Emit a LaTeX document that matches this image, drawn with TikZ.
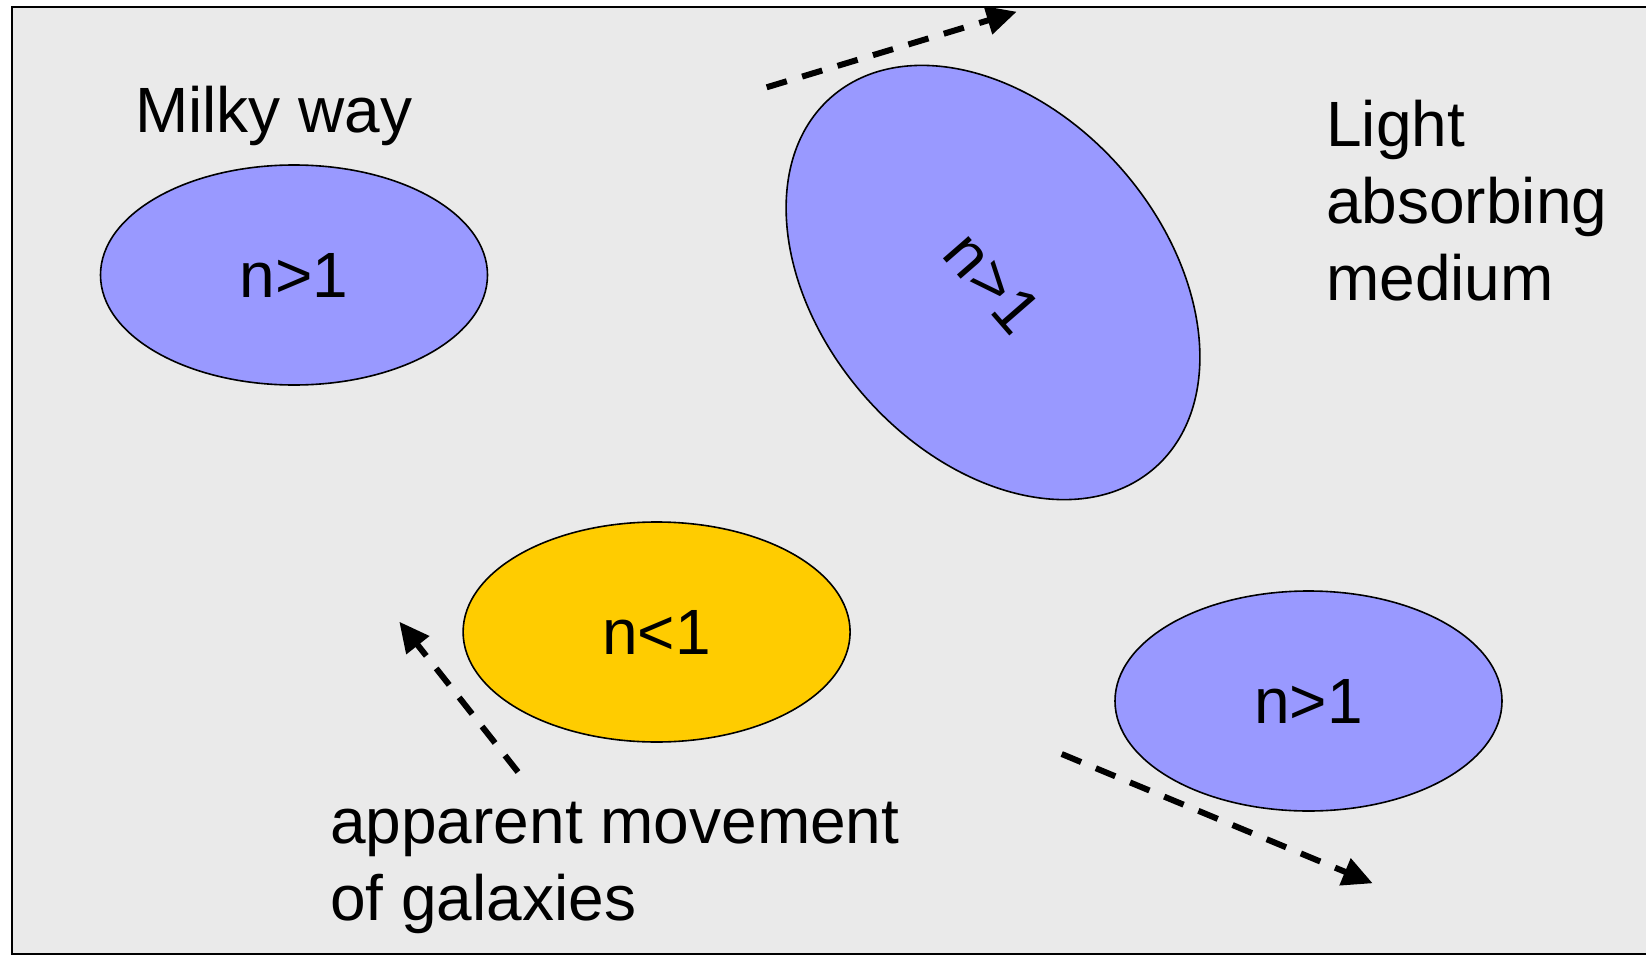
\documentclass[tikz,border=0pt]{standalone}
\usepackage{fontspec}
\setmainfont{Liberation Sans}
\usepackage{tikz}
\usetikzlibrary{shapes.geometric,arrows.meta,positioning}
\definecolor{PaperGrey}{HTML}{EAEAEA}
\definecolor{GalaxyBlue}{HTML}{9999FF}
\definecolor{GalaxyGold}{HTML}{FFCC00}
\tikzset{
  % Base ellipse
  GX/.style={ellipse,draw=black,line width=1.6pt,inner sep=0pt,
             minimum width=387pt,minimum height=220pt,
             font=\fontsize{64}{76.7}\selectfont},
  % Colour variants
  gB/.style={GX,fill=GalaxyBlue},
  gY/.style={GX,fill=GalaxyGold},
  % Free text
  LB/.style={inner sep=0pt,align=left,
             font=\fontsize{64}{76.7}\selectfont},
  % Dashed movement arrow
  mv/.style={-{Triangle[length=30pt,width=28pt]},line width=6pt,
             dash pattern=on 21pt off 16pt}
}
\begin{document}
\begin{tikzpicture}[x=1pt,y=-1pt]
  \useasboundingbox (0,0) rectangle (1646,955);
  \draw[fill=PaperGrey,line width=2pt] (12,7) rectangle (1652,954);

  \node[gB]                                          (milky) at (294,275)   {n>1};
  \node[gB,minimum width=492pt,minimum height=343pt,rotate=-49] (tilt) at (993,282.5) {n>1};
  \node[gY]                                          (near)  at (656.6,632) {n<1};
  \node[gB]                                          (far)   at (1308.5,701) {n>1};

  % base anchor sits on the last line
  \node[LB,anchor=base west] (mwlab)  at (135,133)  {Milky way};
  \node[LB,anchor=base west] (medlab) at (1326,300) {Light\\absorbing\\medium};
  \node[LB,anchor=base west] (movlab) at (330,920)  {apparent movement\\of galaxies};

  \coordinate (topA) at (766.7,87.3);  \coordinate (topB) at (1016.7,11.7);
  \coordinate (lefA) at (518,772);     \coordinate (lefB) at (399.3,621.7);
  \coordinate (botA) at (1061.7,754);  \coordinate (botB) at (1372.7,883.3);

  \draw[mv](topA)--(topB);
  \draw[mv](lefA)--(lefB);
  \draw[mv](botA)--(botB);
\end{tikzpicture}
\end{document}
